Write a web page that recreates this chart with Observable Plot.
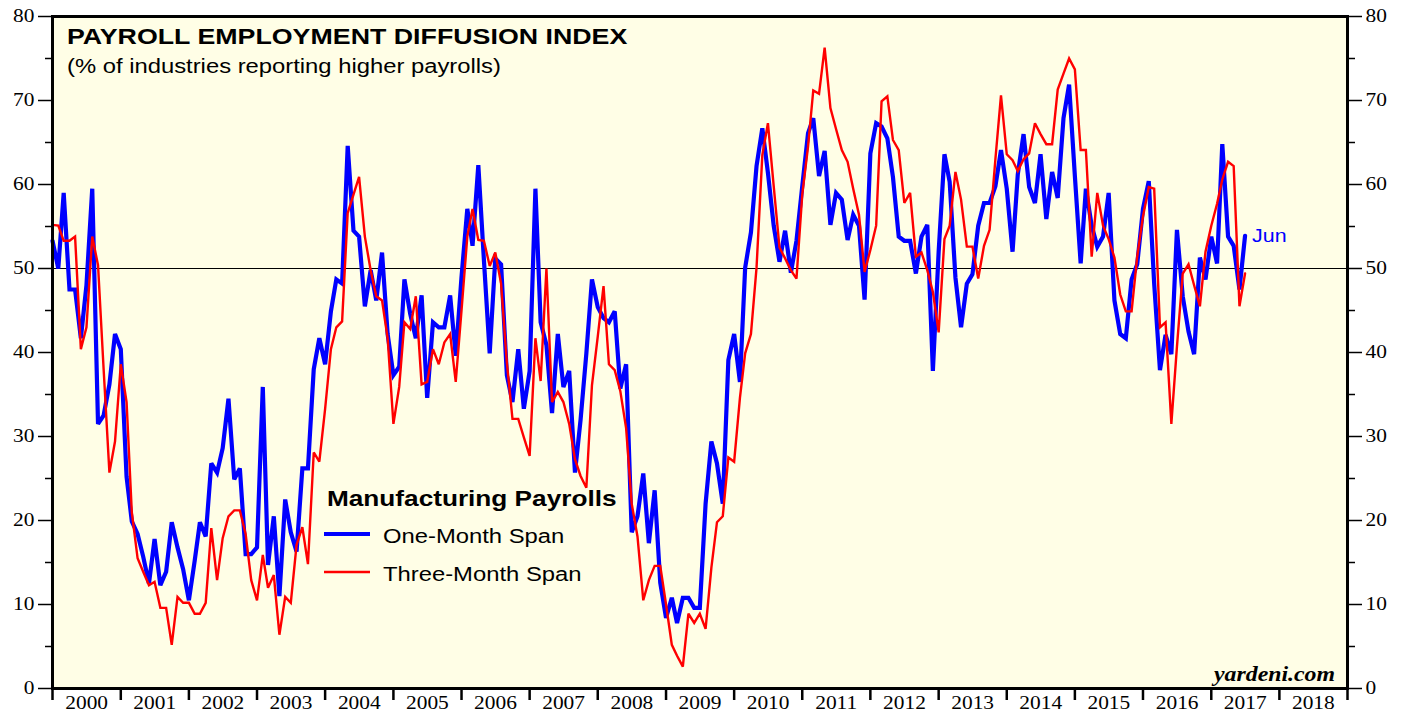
<!DOCTYPE html>
<html><head><meta charset="utf-8">
<script src="https://cdn.jsdelivr.net/npm/d3@7"></script>
<script src="https://cdn.jsdelivr.net/npm/@observablehq/plot@0.6"></script>
<style>body{margin:0;background:#fff;overflow:hidden}#chart{position:relative;width:1407px;height:719px}</style>
</head><body><div id="chart"></div>
<script>
// first observation: Dec 1999, each value plotted at month end; last = Jun 2017
const firstObs = {year: 1999, month: 12};
const oneMonthSpan = [
53.3,50.0,59.0,47.5,47.5,41.7,48.0,59.5,31.5,32.5,
36.2,42.2,40.4,25.2,19.9,18.4,15.7,12.5,17.8,12.3,
13.9,19.8,16.8,14.2,10.5,15.2,19.8,18.1,26.8,25.7,
28.6,34.5,24.9,26.2,16.0,16.0,16.8,35.9,14.7,20.5,
11.0,22.5,18.6,16.3,26.2,26.2,38.0,41.7,38.6,44.9,
48.7,48.2,64.6,54.5,53.8,45.5,49.8,46.2,51.9,42.2,
37.3,38.3,48.7,44.6,41.7,46.8,34.6,43.6,43.0,43.0,
46.8,39.6,49.0,57.1,52.7,62.3,51.0,39.9,51.2,50.5,
37.3,34.1,40.4,33.3,37.8,59.5,43.6,40.9,32.8,42.2,
35.9,37.8,25.7,32.0,39.9,48.7,45.4,44.1,43.6,44.9,
35.7,38.6,18.6,20.5,25.6,17.3,23.6,12.6,8.4,10.8,
7.8,10.8,10.8,9.6,9.6,22.0,29.4,26.8,22.0,39.1,
42.2,36.5,50.1,54.3,62.2,66.7,61.4,55.1,50.8,54.5,
49.5,53.3,59.8,66.1,67.9,61.0,64.0,55.2,59.0,58.2,
53.4,56.4,55.1,46.3,63.7,67.3,66.9,65.5,60.9,53.8,
53.3,53.3,49.4,53.8,55.2,37.8,52.0,63.6,60.3,48.9,
43.0,48.2,49.3,55.1,57.8,57.8,59.8,64.1,59.5,52.0,
61.2,66.0,59.7,57.8,63.6,55.9,61.5,58.4,67.9,71.9,
61.0,50.6,59.5,55.1,52.6,53.8,59.0,46.2,42.2,41.7,
48.7,50.5,57.1,60.4,48.2,37.9,42.1,39.8,54.6,46.7,
42.5,39.8,51.3,48.7,53.8,50.6,64.8,53.8,52.7,47.5,
53.9];
const threeMonthSpan = [
55.2,55.1,53.3,53.3,53.8,40.4,43.0,53.8,50.4,38.0,
25.7,29.4,38.6,34.1,21.0,15.5,13.9,12.3,12.7,9.6,
9.6,5.2,10.9,10.2,10.2,8.9,8.9,10.2,19.1,12.9,
17.9,20.5,21.2,21.2,18.4,12.9,10.5,15.9,12.0,13.5,
6.4,10.9,10.2,17.1,19.2,14.8,28.1,27.0,33.3,40.4,
43.0,43.7,56.6,58.8,60.9,53.8,49.8,46.7,46.2,41.7,
31.5,35.9,43.6,42.8,46.7,36.2,36.5,40.4,38.6,41.2,
42.2,36.5,45.0,53.8,57.1,53.4,53.3,50.3,51.9,48.2,
38.8,32.1,32.1,29.9,27.7,41.7,36.6,50.0,34.1,35.3,
34.1,31.5,27.3,25.3,23.9,36.1,41.9,47.9,38.6,37.9,
35.4,31.0,22.0,18.1,10.5,12.9,14.6,14.6,10.0,5.2,
3.9,2.6,8.9,7.8,8.9,7.1,14.4,19.8,20.5,27.5,
27.0,34.6,39.9,42.2,50.1,63.5,67.3,59.8,52.5,51.2,
49.8,48.8,58.8,64.5,71.2,70.8,76.3,69.1,66.6,64.1,
62.7,59.5,56.4,49.6,52.2,55.1,69.9,70.5,65.3,64.1,
57.8,59.0,51.4,51.9,49.8,47.2,42.4,53.5,55.1,61.5,
58.2,52.6,52.6,48.8,52.7,54.6,63.0,70.6,63.6,62.9,
61.6,63.0,63.7,67.3,66.0,64.8,64.8,71.3,73.2,75.0,
73.7,64.1,64.1,51.4,59.0,55.1,53.5,51.3,46.9,44.9,
44.9,51.4,56.2,59.7,59.5,43.0,43.6,31.5,40.7,49.4,
50.5,48.0,45.5,52.0,55.1,57.7,60.6,62.7,62.2,45.5,
49.4];
const yMajorTicks = [0,10,20,30,40,50,60,70,80];
const yMinorTicks = [5,15,25,35,45,55,65,75];
const yearLabels = [2000,2001,2002,2003,2004,2005,2006,2007,2008,2009,2010,2011,2012,2013,2014,2015,2016,2017,2018];
const lastLabel = "Jun";
const titleText = "PAYROLL EMPLOYMENT DIFFUSION INDEX";
const subtitleText = "(% of industries reporting higher payrolls)";
const legendTitle = "Manufacturing Payrolls";
const seriesNames = ["One-Month Span", "Three-Month Span"];
const sourceText = "yardeni.com";

const BLUE = "#0000ff", RED = "#ff0000", BG = "#fffee6";
const obsDate = i => new Date(Date.UTC(firstObs.year, firstObs.month - 1 + i + 1, 1));
const one = oneMonthSpan.map((v, i) => ({date: obsDate(i), value: v}));
const three = threeMonthSpan.map((v, i) => ({date: obsDate(i), value: v}));
const yearStarts = yearLabels.concat([yearLabels[yearLabels.length-1]+1]).map(y => new Date(Date.UTC(y, 0, 1)));
const yearMids = yearLabels.map(y => new Date(Date.UTC(y, 6, 2)));

const W = 1407, H = 719;
const chart = Plot.plot({
  width: W, height: H,
  marginLeft: 52, marginRight: 60, marginTop: 16, marginBottom: 31,
  style: {fontFamily: "'Liberation Serif', serif", fontSize: "18px", background: "white", color: "black"},
  x: {type: "utc", domain: [yearStarts[0], yearStarts[yearStarts.length-1]]},
  y: {domain: [0, 80]},
  marks: [
    Plot.frame({fill: BG, stroke: null}),
    Plot.ruleY([50], {stroke: "black", strokeWidth: 1}),
    Plot.lineY(one, {x: "date", y: "value", stroke: BLUE, strokeWidth: 4.2, strokeLinejoin: "miter", strokeMiterlimit: 3}),
    Plot.lineY(three, {x: "date", y: "value", stroke: RED, strokeWidth: 2.4, strokeLinejoin: "miter", strokeMiterlimit: 3}),
    Plot.text(one.slice(-1), {x: "date", y: "value", text: () => lastLabel, dx: 7, textAnchor: "start", fill: BLUE, fontFamily: "'Liberation Sans', Arial, sans-serif", fontSize: 18}),
    Plot.frame({stroke: "black", strokeWidth: 3}),
    Plot.axisY({ticks: yMajorTicks, anchor: "left", tickSize: 14, tickPadding: 4, strokeWidth: 1.5, label: null}),
    Plot.axisY({ticks: yMinorTicks, anchor: "left", tickSize: 7, tickFormat: () => "", strokeWidth: 1.5, label: null}),
    Plot.axisY({ticks: yMajorTicks, anchor: "right", tickSize: 14, tickPadding: 4, strokeWidth: 1.5, label: null}),
    Plot.axisY({ticks: yMinorTicks, anchor: "right", tickSize: 7, tickFormat: () => "", strokeWidth: 1.5, label: null}),
    Plot.axisX({ticks: yearStarts, anchor: "bottom", tickSize: 12, tickFormat: () => "", strokeWidth: 2.5, label: null}),
    Plot.axisX({ticks: yearMids, anchor: "bottom", tickSize: 0, tickPadding: 8, tickFormat: d => String(d.getUTCFullYear()), label: null})
  ]
});
document.getElementById("chart").appendChild(chart);
const svg = d3.select(chart);
const sans = "'Liberation Sans', Arial, sans-serif";
const add = (txt, x, y, opts) => {
  return svg.append("text").attr("x", x).attr("y", y).text(txt)
    .attr("font-family", opts.family || sans).attr("font-size", opts.size)
    .attr("font-weight", opts.weight || "normal").attr("fill", opts.fill || "black")
    .attr("font-style", opts.style || "normal")
    .attr("text-anchor", opts.anchor || "start");
};
add(titleText, 67, 44, {size: 22.5, weight: "bold"});
add(subtitleText, 67, 72.5, {size: 20});
add(legendTitle, 327, 506, {size: 22, weight: "bold"});
svg.append("line").attr("x1", 324).attr("x2", 370).attr("y1", 534).attr("y2", 534).attr("stroke", BLUE).attr("stroke-width", 4);
add(seriesNames[0], 383, 542.5, {size: 20});
svg.append("line").attr("x1", 324).attr("x2", 370).attr("y1", 572).attr("y2", 572).attr("stroke", RED).attr("stroke-width", 2.4);
add(seriesNames[1], 383, 581, {size: 20});
add(sourceText, 1335, 681, {size: 20, weight: "bold", style: "italic", family: "'Liberation Serif', serif", anchor: "end"});
// horizontally widened lettering, as in the original artwork
const STRETCH = 1.19;
chart.querySelectorAll("text").forEach(t => {
  const L = t.getComputedTextLength();
  if (L > 0) { t.setAttribute("textLength", (L * STRETCH).toFixed(1)); t.setAttribute("lengthAdjust", "spacingAndGlyphs"); }
});
</script>
</body></html>
